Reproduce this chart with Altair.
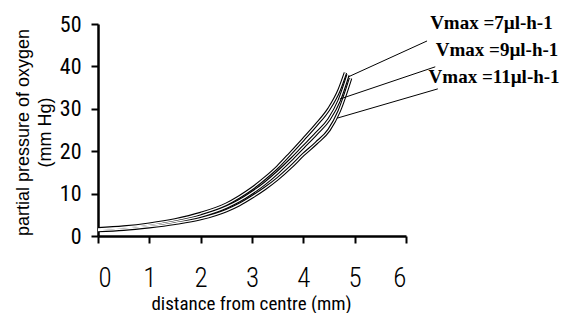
import altair as alt
import pandas as pd

# ---- data ----
x_common = [0, 0.5, 1, 1.5, 2, 2.5, 2.75, 3, 3.25, 3.5, 3.75, 4, 4.25, 4.5, 4.7]
v7 = [1.7, 2.1, 2.8, 3.8, 5.3, 7.5, 9.2, 11.2, 13.6, 16.3, 19.5, 22.8, 26.2, 30.0, 34.5]
v9 = [1.5, 1.9, 2.5, 3.4, 4.7, 6.8, 8.3, 10.2, 12.4, 15.0, 17.9, 21.0, 24.1, 27.5, 32.0]
v11 = [1.3, 1.6, 2.2, 3.0, 4.1, 6.0, 7.4, 9.2, 11.2, 13.5, 16.2, 19.2, 21.9, 25.0, 29.5]
end_x = {"7": 4.82, "9": 4.87, "11": 4.92}
end_y = {"7": 38.5, "9": 38.0, "11": 37.2}

labels = ["Vmax =7µl-h-1", "Vmax =9µl-h-1", "Vmax =11µl-h-1"]
label_x = [6.47, 6.58, 6.44]
label_y = [48.8, 42.45, 36.1]
lead_x1 = [6.41, 6.57, 6.62]
lead_y1 = [46.0, 39.9, 34.7]
lead_x2 = [4.87, 4.71, 4.66]
lead_y2 = [37.5, 32.3, 27.8]

x_ticks = [0, 1, 2, 3, 4, 5, 6]
y_ticks = [0, 10, 20, 30, 40, 50]

rows = []
for name, vals in (("7", v7), ("9", v9), ("11", v11)):
    for i, (xv, yv) in enumerate(zip(x_common, vals)):
        rows.append({"series": name, "order": i, "x": xv, "y": yv})
    rows.append({"series": name, "order": len(x_common), "x": end_x[name], "y": end_y[name]})
curves = pd.DataFrame(rows)

ann = pd.DataFrame({
    "label": labels, "lx": label_x, "ly": label_y,
    "x1": lead_x1, "y1": lead_y1, "x2": lead_x2, "y2": lead_y2,
})

cond = "Roboto Condensed, Liberation Sans Narrow, Liberation Sans, sans-serif"

xscale = alt.Scale(domain=[0, 6], nice=False, zero=False)
yscale = alt.Scale(domain=[0, 50], nice=False)

xaxis = alt.Axis(values=x_ticks, grid=False, tickSize=7, tickWidth=2, tickColor="black",
                 domainColor="black", domainWidth=2.5, labelFont=cond, labelFontSize=27,
                 labelFontWeight=300, labelColor="black", labelPadding=22,
                 title="distance from centre (mm)", titleFont=cond, titleFontSize=19,
                 titleFontWeight="normal", titleColor="black", titleX=153, titleY=73,
                 titleBaseline="alphabetic", titleAlign="center")
yaxis = alt.Axis(values=y_ticks, grid=False, tickSize=7, tickWidth=2, tickColor="black",
                 domainColor="black", domainWidth=2.5, labelFont=cond, labelFontSize=22,
                 labelColor="black", labelPadding=10,
                 title=["partial pressure of oxygen", "(mm Hg)"], titleFont="Liberation Sans",
                 titleFontSize=18, titleFontWeight="normal", titleColor="black",
                 titleX=-70, titleY=108, titleBaseline="alphabetic", titleAlign="center",
                 titleLineHeight=22, titleAngle=270)

base = alt.Chart(curves)
black_lines = base.mark_line(color="black", strokeWidth=3.5, interpolate="monotone").encode(
    x=alt.X("x:Q", scale=xscale, axis=xaxis),
    y=alt.Y("y:Q", scale=yscale, axis=yaxis),
    detail="series:N",
    order="order:Q",
)
white_lines = base.mark_line(color="white", strokeWidth=1.3, interpolate="monotone").encode(
    x=alt.X("x:Q", scale=xscale),
    y=alt.Y("y:Q", scale=yscale),
    detail="series:N",
    order="order:Q",
)
leaders = alt.Chart(ann).mark_rule(color="black", strokeWidth=1).encode(
    x=alt.X("x1:Q", scale=xscale), y=alt.Y("y1:Q", scale=yscale),
    x2="x2:Q", y2="y2:Q",
)
texts = alt.Chart(ann).mark_text(font="Liberation Serif", fontWeight="bold", fontSize=19,
                                 align="left", baseline="alphabetic", color="black").encode(
    x=alt.X("lx:Q", scale=xscale), y=alt.Y("ly:Q", scale=yscale), text="label:N",
)

chart = alt.layer(black_lines, white_lines, leaders, texts).properties(
    width=308, height=212,
    autosize=alt.AutoSizeParams(type="none"),
    padding={"left": 90, "top": 16, "right": 155, "bottom": 77},
    background="white",
).configure_view(stroke=None)

chart.save("out.html", embed_options={"renderer": "svg", "actions": False})
